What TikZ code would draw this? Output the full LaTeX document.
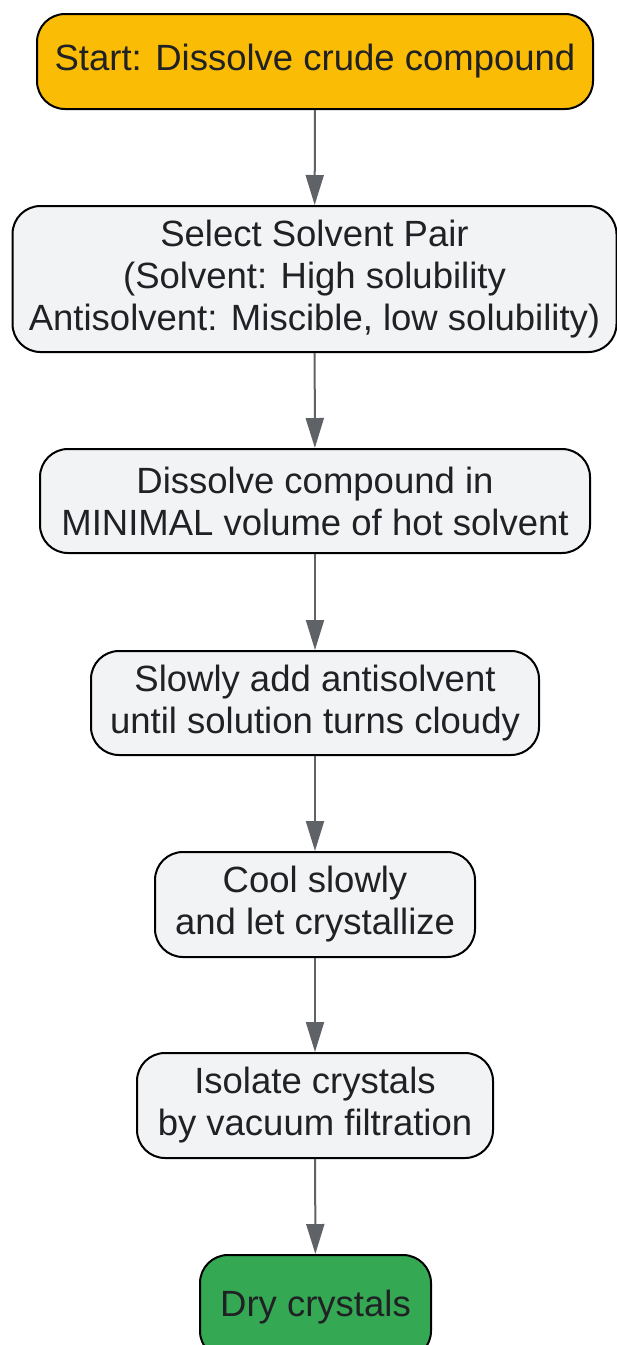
\documentclass[tikz,border=0pt]{standalone}
\usepackage{fontspec}
\setmainfont{Liberation Sans}
\usetikzlibrary{shapes,arrows.meta}
\definecolor{startfill}{HTML}{FBBC05}
\definecolor{stepfill}{HTML}{F1F3F4}
\definecolor{endfill}{HTML}{34A853}
\definecolor{linkgray}{HTML}{5F6368}
\definecolor{textdark}{HTML}{202124}
\tikzset{
  box/.style={shape=rectangle,draw=black,align=center,line width=2pt,rounded corners=28pt,text=textdark,font=\fontsize{36.5}{42}\selectfont,inner sep=0pt},
  link/.style={-{Triangle[length=30pt,width=18pt]},draw=linkgray,color=linkgray,line width=2pt}
}

\begin{document}
\begin{tikzpicture}[x=1pt,y=-1pt]
\useasboundingbox (0,0) rectangle (617,1345);
\node[box,fill=startfill,minimum width=556pt,minimum height=95pt] (0) at (315,61.5) {Start: Dissolve crude compound};
\node[box,fill=stepfill,minimum width=604pt,minimum height=146pt] (1) at (314.5,279) {Select Solvent Pair\\(Solvent: High solubility\\Antisolvent: Miscible, low solubility)};
\node[box,fill=stepfill,minimum width=550pt,minimum height=104pt] (2) at (315,501) {Dissolve compound in\\MINIMAL volume of hot solvent};
\node[box,fill=stepfill,minimum width=448pt,minimum height=104pt] (3) at (315,703) {Slowly add antisolvent\\until solution turns cloudy};
\node[box,fill=stepfill,minimum width=320pt,minimum height=105pt] (4) at (315,904.5) {Cool slowly\\and let crystallize};
\node[box,fill=stepfill,minimum width=356pt,minimum height=105pt] (5) at (315,1105.5) {Isolate crystals\\by vacuum filtration};
\node[box,fill=endfill,minimum width=231pt,minimum height=104pt] (6) at (315.5,1307) {Dry crystals};

\path [link] (0) edge node {} (1);
\path [link] (1) edge node {} (2);
\path [link] (2) edge node {} (3);
\path [link] (3) edge node {} (4);
\path [link] (4) edge node {} (5);
\path [link] (5) edge node {} (6);
\end{tikzpicture}
\end{document}
